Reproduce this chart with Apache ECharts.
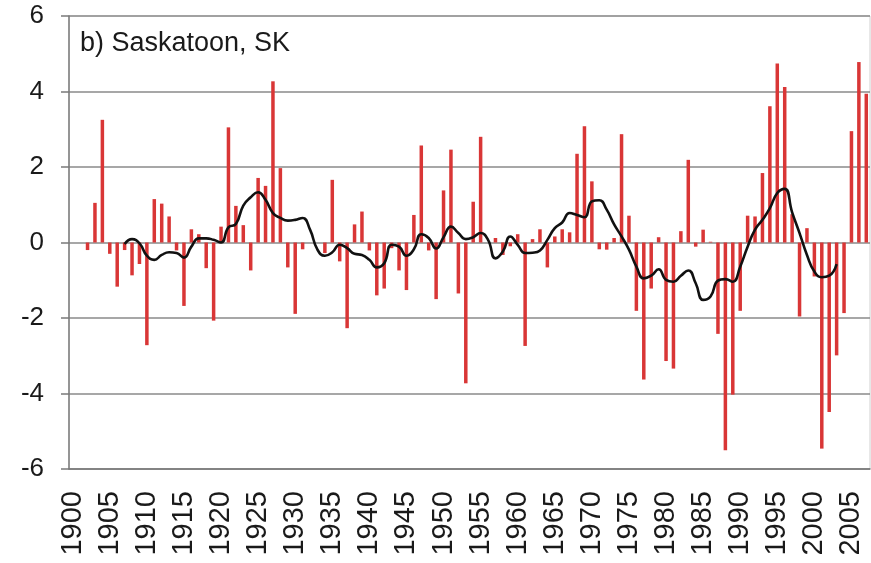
<!DOCTYPE html>
<html>
<head>
<meta charset="utf-8">
<script src="https://cdn.jsdelivr.net/npm/echarts@6/dist/echarts.min.js"></script>
<style>
html,body{margin:0;padding:0;background:#fff;}
#chart{width:871px;height:563px;}
</style>
</head>
<body>
<div id="chart"></div>
<script>
const firstYear = 1900;
const lastYear = 2007;
const yTicks = [-6, -4, -2, 0, 2, 4, 6];
const anomalies = [
  null, null, -0.2, 1.05, 3.25, -0.3, -1.17, -0.2, -0.87, -0.57,
  -2.72, 1.15, 1.03, 0.69, -0.21, -1.68, 0.35, 0.22, -0.68, -2.07,
  0.42, 3.05, 0.97, 0.46, -0.74, 1.71, 1.5, 4.27, 1.97, -0.66,
  -1.89, -0.18, 0, 0, -0.28, 1.66, -0.5, -2.27, 0.48, 0.82,
  -0.21, -1.4, -1.22, -0.15, -0.74, -1.26, 0.73, 2.57, -0.21, -1.5,
  1.38, 2.46, -1.35, -3.73, 1.08, 2.8, 0, 0.12, -0.33, -0.1,
  0.22, -2.74, 0.09, 0.35, -0.66, 0.16, 0.35, 0.27, 2.35, 3.08,
  1.62, -0.18, -0.19, 0.12, 2.87, 0.71, -1.81, -3.63, -1.22, 0.14,
  -3.14, -3.34, 0.3, 2.19, -0.11, 0.34, 0.02, -2.42, -5.5, -4.03,
  -1.81, 0.71, 0.69, 1.84, 3.61, 4.74, 4.12, 0.75, -1.96, 0.38,
  -0.9, -5.46, -4.49, -2.99, -1.87, 2.95, 4.78, 3.94
];
const smoothStart = 1907;
const smoothed = [
  -0.04, 0.09, -0.02,
  -0.35, -0.46, -0.33, -0.26, -0.28, -0.40, -0.11, 0.11, 0.11, 0.07,
  0.0, 0.4, 0.49, 0.98, 1.2, 1.33, 1.13, 0.78, 0.65, 0.58,
  0.6, 0.65, 0.34, -0.19, -0.35, -0.26, -0.06, -0.15, -0.3, -0.33,
  -0.46, -0.66, -0.55, -0.06, -0.11, -0.35, -0.18, 0.22, 0.12, -0.16,
  0.14, 0.42, 0.25, 0.09, 0.14, 0.25, 0.07, -0.42, -0.24, 0.16,
  -0.06, -0.28, -0.27, -0.21, 0.07, 0.38, 0.53, 0.78, 0.73, 0.67,
  1.09, 1.12, 0.87, 0.48, 0.16, -0.19, -0.64, -0.95, -0.88, -0.71,
  -0.99, -1.04, -0.88, -0.74, -1.08, -1.52, -1.43, -1.01, -0.97, -1.04,
  -0.64, -0.11, 0.34, 0.6, 0.91, 1.31, 1.42, 0.8, 0.25, -0.33,
  -0.77, -0.92, -0.88, -0.57
];
const titleText = 'b) Saskatoon, SK';

const years = [];
for (let y = firstYear; y <= lastYear; y++) years.push(String(y));
const smoothSeries = years.map((y, i) => {
  const k = Number(y) - smoothStart;
  return (k >= 0 && k < smoothed.length) ? smoothed[k] : null;
});

const chart = echarts.init(document.getElementById('chart'), null, {renderer: 'canvas'});
chart.setOption({
  animation: false,
  backgroundColor: '#ffffff',
  title: {
    text: titleText,
    left: 75, top: 25,
    textStyle: {fontFamily: 'Liberation Sans, Arial, sans-serif', fontSize: 27, fontWeight: 'normal', color: '#1a1a1a'}
  },
  grid: {
    left: 69, right: 1, top: 16, bottom: 94,
    show: true, borderColor: '#d0d0d0', borderWidth: 1, backgroundColor: 'transparent'
  },
  xAxis: {
    type: 'category',
    data: years,
    boundaryGap: true,
    position: 'bottom',
    axisLine: {show: true, onZero: false, lineStyle: {color: '#7a7a7a', width: 1.5}},
    axisTick: {show: false},
    axisLabel: {
      interval: 4,
      rotate: 90,
      margin: 22,
      fontFamily: 'Liberation Sans, Arial, sans-serif',
      fontSize: 29,
      color: '#1a1a1a'
    },
    splitLine: {show: false}
  },
  yAxis: {
    type: 'value',
    min: -6, max: 6, interval: 2,
    axisLine: {show: true, lineStyle: {color: '#7a7a7a', width: 1.5}},
    axisTick: {show: true, length: 8, lineStyle: {color: '#7a7a7a', width: 1.5}},
    axisLabel: {
      margin: 25,
      fontFamily: 'Liberation Sans, Arial, sans-serif',
      fontSize: 26,
      color: '#1a1a1a',
      formatter: v => yTicks.includes(v) ? String(v) : ''
    },
    splitLine: {show: true, lineStyle: {color: '#8a8a8a', width: 1.5}}
  },
  series: [
    {
      type: 'bar',
      data: anomalies,
      barWidth: 3.5,
      itemStyle: {color: '#d93636'},
      z: 2
    },
    {
      type: 'line',
      data: smoothSeries,
      smooth: 0.5,
      showSymbol: false,
      connectNulls: false,
      lineStyle: {color: '#111111', width: 2.6},
      z: 3
    }
  ]
});
</script>
</body>
</html>
